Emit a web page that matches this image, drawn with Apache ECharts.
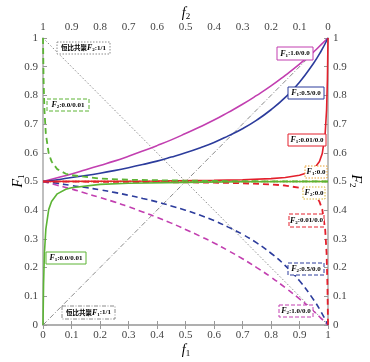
<!DOCTYPE html>
<html><head><meta charset="utf-8">
<script src="https://cdn.jsdelivr.net/npm/echarts@6/dist/echarts.min.js"></script>
<style>html,body{margin:0;padding:0;background:#fff}#c{width:370px;height:362px}</style>
</head><body><div id="c"></div>
<script>
// composition (f1) sample points and read values
const fMain = [0, 0.05, 0.1, 0.15, 0.2, 0.25, 0.3, 0.35, 0.4, 0.45, 0.5, 0.55, 0.6, 0.65, 0.7, 0.75, 0.8, 0.85, 0.9, 0.95, 0.975, 1];
const F1_r10 = [0.5, 0.513, 0.526, 0.541, 0.556, 0.571, 0.588, 0.606, 0.625, 0.645, 0.667, 0.690, 0.714, 0.741, 0.769, 0.8, 0.833, 0.870, 0.909, 0.952, 0.976, 1];
const F1_r05 = [0.5, 0.506, 0.514, 0.521, 0.529, 0.538, 0.548, 0.559, 0.571, 0.585, 0.6, 0.617, 0.636, 0.659, 0.684, 0.714, 0.75, 0.793, 0.846, 0.913, 0.953, 1];
const F2_r10 = [0.5, 0.487, 0.474, 0.459, 0.444, 0.429, 0.412, 0.394, 0.375, 0.355, 0.333, 0.310, 0.286, 0.259, 0.231, 0.2, 0.167, 0.130, 0.091, 0.048, 0.024, 0];
const F2_r05 = [0.5, 0.494, 0.486, 0.479, 0.471, 0.462, 0.452, 0.441, 0.429, 0.415, 0.4, 0.383, 0.364, 0.341, 0.316, 0.286, 0.25, 0.207, 0.154, 0.087, 0.047, 0];

const fRed = [0, 0.2, 0.4, 0.6, 0.7, 0.8, 0.85, 0.9, 0.93, 0.95, 0.97, 0.98, 0.99, 0.995, 0.998, 1];
const F1_r001 = [0.5, 0.501, 0.502, 0.504, 0.506, 0.510, 0.514, 0.522, 0.531, 0.543, 0.570, 0.598, 0.666, 0.749, 0.857, 1];
const F2_r001 = [0.5, 0.499, 0.498, 0.496, 0.494, 0.490, 0.486, 0.478, 0.469, 0.457, 0.430, 0.402, 0.334, 0.251, 0.143, 0];

const fGreen = [0, 0.002, 0.005, 0.01, 0.02, 0.03, 0.05, 0.08, 0.1, 0.2, 0.3, 0.5, 0.7, 1];
const F1_g = [0, 0.143, 0.251, 0.334, 0.402, 0.430, 0.457, 0.473, 0.478, 0.490, 0.494, 0.497, 0.499, 0.5];
const F2_g = [1, 0.857, 0.749, 0.666, 0.598, 0.570, 0.543, 0.527, 0.522, 0.510, 0.506, 0.503, 0.501, 0.5];

const fFlat = [0, 1];
const F_alt = [0.5, 0.5];
const fDiag = [0, 1];
const diagUp = [0, 1];
const diagDown = [1, 0];

function pairs(xs, ys) { return xs.map((x, i) => [x, ys[i]]); }

const C = {mag:'#c23fb0', blue:'#2c3c9c', red:'#e3202c', green:'#5cb435', gray:'#8a8a8a', orange:'#e8a030', yellow:'#d9b430'};
const serif = "'Liberation Serif', 'Times New Roman', serif";
const cjk = "'Noto Sans CJK SC'";

function ln(name, xs, ys, color, type, yIdx, w, sm) {
  return {name, type:'line', data:pairs(xs, ys), xAxisIndex:0, yAxisIndex:yIdx||0,
    symbol:'none', smooth:sm||false, silent:true,
    lineStyle:{color, width:w||1.6, type:type||'solid'}};
}

const richName = {
  i:{fontFamily:serif, fontStyle:'italic', fontSize:14, color:'#333'},
  s:{fontFamily:serif, fontSize:9, color:'#333', padding:[8,0,0,0]}
};

const labelRich = {
  i:{fontFamily:serif, fontStyle:'italic', fontWeight:'bold', fontSize:8, color:'#222'},
  s:{fontFamily:serif, fontWeight:'bold', fontSize:5, color:'#222', padding:[4,0,0,0]},
  t:{fontFamily:serif, fontWeight:'bold', fontSize:7, color:'#222'},
  c:{fontFamily:cjk, fontWeight:'bold', fontSize:6.5, color:'#222'}
};

// annotation boxes: [text, x, y, w, h, stroke, dash]
const boxes = [
  ['{c|恒比共聚}{i|F}{s|2}{t|:1/1}', 57, 42, 53, 12, C.gray, [1.5,1.5]],
  ['{i|F}{s|2}{t|:0.0/0.01}', 47, 99, 42, 12, C.green, [4,2]],
  ['{i|F}{s|1}{t|:0.0/0.01}', 46, 252, 40, 12, C.green, null],
  ['{c|恒比共聚}{i|F}{s|1}{t|:1/1}', 62, 306, 53, 13, C.gray, [4,1.5,1,1.5]],
  ['{i|F}{s|1}{t|:1.0/0.0}', 277, 47, 36, 13, C.mag, null],
  ['{i|F}{s|1}{t|:0.5/0.0}', 288, 87, 36, 12, C.blue, null],
  ['{i|F}{s|1}{t|:0.01/0.0}', 288, 134, 38, 12, C.red, null],
  ['{i|F}{s|1}{t|:0.0}', 305, 166, 22, 12, C.orange, [1.5,1.5]],
  ['{i|F}{s|2}{t|:0.0}', 303, 187, 22, 12, C.yellow, [1.5,1.5]],
  ['{i|F}{s|2}{t|:0.01/0.0}', 289, 214, 35, 13, C.red, [4,2]],
  ['{i|F}{s|2}{t|:0.5/0.0}', 288, 263, 36, 12, C.blue, [4,2]],
  ['{i|F}{s|2}{t|:1.0/0.0}', 279, 305, 34, 12, C.mag, [4,2]]
];

const graphic = [];
boxes.forEach(b => {
  graphic.push({type:'rect', z:100, silent:true, shape:{x:b[1], y:b[2], width:b[3], height:b[4]},
    style:{fill:'#fff', stroke:b[5], lineWidth:1, lineDash:b[6]||null}});
  graphic.push({type:'text', z:101, silent:true, x:b[1]+b[3]/2, y:b[2]+b[4]/2,
    style:{text:b[0], rich:labelRich, align:'center', verticalAlign:'middle'}});
});
// axis titles: [text, x, y, rotation]
const titles = [
  ['{i|F}{s|1}', 18, 181, Math.PI/2],
  ['{i|F}{s|2}', 356, 181, -Math.PI/2],
  ['{i|f}{s|1}', 186, 350, 0],
  ['{i|f}{s|2}', 186, 13, 0]
];
titles.forEach(t => graphic.push({type:'text', silent:true, x:t[1], y:t[2], rotation:t[3],
  style:{text:t[0], rich:richName, align:'center', verticalAlign:'middle'}}));

const axisCommon = {
  type:'value', min:0, max:1, interval:0.1,
  axisLine:{show:true, lineStyle:{color:'#aaaaaa', width:1.5}},
  axisTick:{show:true, inside:true, length:4, lineStyle:{color:'#999'}},
  splitLine:{show:false},
  axisLabel:{fontFamily:serif, fontSize:11, color:'#444', margin:5,
    formatter: v => (Math.round(v*10)/10).toString()}
};

const option = {
  animation:false,
  backgroundColor:'#fff',
  grid:{left:43, right:42, top:38, bottom:37, containLabel:false, outerBoundsMode:'none'},
  xAxis:[
    Object.assign({}, axisCommon, {position:'bottom'}),
    Object.assign({}, axisCommon, {position:'top', inverse:true})
  ],
  yAxis:[
    Object.assign({}, axisCommon, {position:'left'}),
    Object.assign({}, axisCommon, {position:'right'})
  ],
  graphic,
  series:[
    ln('F2 1/1', fDiag, diagDown, C.gray, [1.5,2], 1, 1),
    ln('F1 1/1', fDiag, diagUp, C.gray, [5,2,1,2], 0, 1),
    ln('F1 0.0', fFlat, F_alt, C.orange, 'dotted', 0, 1.6),
    ln('F2 0.0', fFlat, F_alt, C.yellow, 'dotted', 1, 1.6),
    ln('F1 1.0/0.0', fMain, F1_r10, C.mag, 'solid', 0, 1.6, true),
    ln('F1 0.5/0.0', fMain, F1_r05, C.blue, 'solid', 0, 1.6, true),
    ln('F2 1.0/0.0', fMain, F2_r10, C.mag, [6,4], 1, 1.6, true),
    ln('F2 0.5/0.0', fMain, F2_r05, C.blue, [6,4], 1, 1.6, true),
    ln('F2 0.01/0.0', fRed, F2_r001, C.red, [6,4], 1, 1.8),
    ln('F1 0.01/0.0', fRed, F1_r001, C.red, 'solid', 0, 1.6),
    ln('F2 0.0/0.01', fGreen, F2_g, C.green, [6,4], 1, 1.8),
    ln('F1 0.0/0.01', fGreen, F1_g, C.green, 'solid', 0, 1.6)
  ]
};

const chart = echarts.init(document.getElementById('c'), null, {renderer:'canvas'});
chart.setOption(option);
</script></body></html>
